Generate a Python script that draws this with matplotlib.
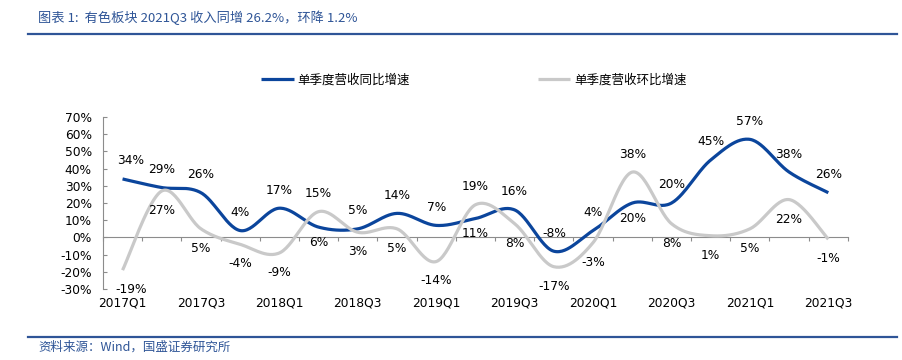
import numpy as np
import matplotlib.pyplot as plt
from matplotlib.lines import Line2D
from matplotlib.transforms import blended_transform_factory

plt.rcParams['font.family'] = ['DejaVu Sans', 'Noto Sans CJK SC']
CJK = ['Noto Sans CJK SC', 'DejaVu Sans']

# data
quarters = ['2017Q1', '2017Q2', '2017Q3', '2017Q4', '2018Q1', '2018Q2', '2018Q3', '2018Q4',
            '2019Q1', '2019Q2', '2019Q3', '2019Q4', '2020Q1', '2020Q2', '2020Q3', '2020Q4',
            '2021Q1', '2021Q2', '2021Q3']
yoy = [34, 29, 26, 4, 17, 6, 5, 14, 7, 11, 16, -8, 4, 20, 20, 45, 57, 38, 26]
qoq = [-19, 27, 5, -4, -9, 15, 3, 5, -14, 19, 8, -17, -3, 38, 8, 1, 5, 22, -1]
# label above (a) or below (b) the point
yoy_pos = list('aaaaabaaabaaabaaaaa')
qoq_pos = list('bbbbbabbbabbbabbbbb')

BLUE = '#0B459C'
GREY = '#C9C9C9'
HEAD = '#2F5597'


def smooth(y, n=30):
    # excel-like smoothed line (bezier through points)
    P = np.column_stack([np.arange(len(y)), np.asarray(y, float)])
    xs, ys = [], []
    t = np.linspace(0, 1, n)[:, None]
    for i in range(len(P) - 1):
        p0 = P[i - 1] if i > 0 else P[i]
        p1, p2 = P[i], P[i + 1]
        p3 = P[i + 2] if i + 2 < len(P) else P[i + 1]
        c1 = p1 + (p2 - p0) / 6
        c2 = p2 - (p3 - p1) / 6
        b = ((1 - t) ** 3) * p1 + 3 * ((1 - t) ** 2) * t * c1 + 3 * (1 - t) * t ** 2 * c2 + t ** 3 * p2
        xs.append(b[:, 0])
        ys.append(b[:, 1])
    return np.concatenate(xs), np.concatenate(ys)


fig = plt.figure(figsize=(9.03, 3.6), dpi=100)
ax = fig.add_axes([0.114, 0.197, 0.825, 0.478])

x = np.arange(len(quarters))
bx, by = smooth(yoy)
gx, gy = smooth(qoq)
ax.plot(bx, by, color=BLUE, lw=2.3, solid_capstyle='butt', zorder=3, label='单季度营收同比增速')
ax.plot(gx, gy, color=GREY, lw=2.3, solid_capstyle='butt', zorder=4, label='单季度营收环比增速')

ax.set_xlim(-0.5, len(quarters) - 0.5)
ax.set_ylim(-30, 70)
ax.set_yticks(np.arange(-30, 71, 10))
ax.set_yticklabels([f'{v}%' for v in range(-30, 71, 10)], fontsize=8.8)
ax.tick_params(axis='y', direction='in', length=3, pad=8, color='#8C8C8C')

# x axis at zero with boundary ticks
ax.spines['bottom'].set_position(('data', 0))
ax.set_xticks(np.arange(-0.5, len(quarters), 1.0))
ax.set_xticklabels([])
ax.tick_params(axis='x', direction='out', length=3, color='#8C8C8C')
for s in ['top', 'right']:
    ax.spines[s].set_visible(False)
for s in ['left', 'bottom']:
    ax.spines[s].set_color('#8C8C8C')
    ax.spines[s].set_linewidth(0.8)

trans = blended_transform_factory(ax.transData, ax.transAxes)
for i in range(0, len(quarters), 2):
    ax.text(x[i], 0, quarters[i], transform=trans, ha='center', va='top', fontsize=8.8)
    # offset below axes bottom
for t in ax.texts:
    t.set_y(-0.045)

# data labels
for i in range(len(x)):
    dx = 6 if i == 0 else 0
    dy = 13 if yoy_pos[i] == 'a' else -11
    ax.annotate(f'{yoy[i]}%', (x[i], yoy[i]), xytext=(dx, dy), textcoords='offset points',
                ha='center', va='center', fontsize=8.8, zorder=5)
    dy = 13 if qoq_pos[i] == 'a' else -14
    ax.annotate(f'{qoq[i]}%', (x[i], qoq[i]), xytext=(dx, dy), textcoords='offset points',
                ha='center', va='center', fontsize=8.8, zorder=5)

leg = ax.legend(loc='center', bbox_to_anchor=(0.498, 1.215), ncol=2, frameon=False,
                handlelength=2.6, handletextpad=0.3, columnspacing=10.2,
                prop={'family': CJK, 'size': 9})

# header / footer
fig.text(0.042, 0.95, '图表 1:  有色板块 2021Q3 收入同增 26.2%，环降 1.2%', color=HEAD,
         fontsize=9.5, style='italic', family=CJK, va='center')
fig.add_artist(Line2D([0.031, 0.993], [1 - 34 / 360] * 2, color=HEAD, lw=1.6))
fig.add_artist(Line2D([0.031, 0.993], [1 - 337 / 360] * 2, color=HEAD, lw=1.6))
fig.text(0.042, 1 - 347 / 360, '资料来源：Wind，国盛证券研究所', color=HEAD,
         fontsize=9, style='italic', family=CJK, va='center')

fig.savefig('out.png', dpi=100)
